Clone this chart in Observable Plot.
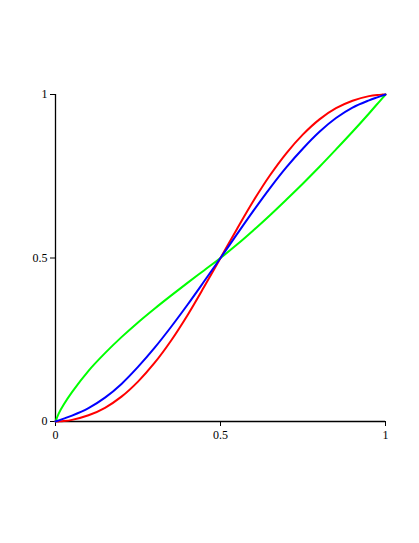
<!DOCTYPE html>
<html>
<head>
<meta charset="utf-8">
<script src="https://cdn.jsdelivr.net/npm/d3@7"></script>
<script src="https://cdn.jsdelivr.net/npm/@observablehq/plot@0.6"></script>
<style>
  html, body { margin: 0; padding: 0; background: #fff; }
  svg text { font-family: "Liberation Serif", "Times New Roman", serif !important; }
</style>
</head>
<body>
<div id="chart"></div>
<script>
const xs    = [0, 0.01, 0.025, 0.05, 0.1, 0.15, 0.2, 0.25, 0.3, 0.35, 0.4, 0.45, 0.5, 0.55, 0.6, 0.65, 0.7, 0.75, 0.8, 0.85, 0.9, 0.95, 0.975, 0.99, 1];
const red   = [0, 0.0003, 0.0013, 0.005, 0.019, 0.042, 0.076, 0.122, 0.179, 0.247, 0.325, 0.411, 0.5, 0.589, 0.675, 0.753, 0.821, 0.878, 0.924, 0.958, 0.981, 0.995, 0.9987, 0.9997, 1];
const blue  = [0, 0.0035, 0.0088, 0.018, 0.041, 0.073, 0.115, 0.167, 0.225, 0.289, 0.357, 0.428, 0.5, 0.573, 0.645, 0.714, 0.778, 0.835, 0.886, 0.928, 0.960, 0.982, 0.9912, 0.9965, 1];
const green = [0, 0.025, 0.052, 0.090, 0.155, 0.209, 0.258, 0.303, 0.345, 0.385, 0.424, 0.462, 0.5, 0.541, 0.585, 0.631, 0.679, 0.728, 0.779, 0.832, 0.886, 0.942, 0.971, 0.988, 1];
const tickValues = [0, 0.5, 1];
const tickLabels = ["0", "0.5", "1"];

const series = [
  {name: "green", color: "#00ff00", ys: green},
  {name: "red", color: "#ff0000", ys: red},
  {name: "blue", color: "#0000ff", ys: blue}
];

const fmt = d => tickLabels[tickValues.indexOf(d)];
const serif = "'Liberation Serif', 'Times New Roman', serif";

const chart = Plot.plot({
  width: 419,
  height: 543,
  marginLeft: 55,
  marginRight: 34,
  marginTop: 94,
  marginBottom: 122,
  style: {background: "#fff", color: "#000", fontFamily: serif, fontSize: "12px"},
  x: {domain: [0, 1], axis: null},
  y: {domain: [0, 1], axis: null},
  marks: [
    Plot.ruleX([0], {y1: 0, y2: 1, stroke: "#000", strokeWidth: 1.3}),
    Plot.ruleY([0], {x1: 0, x2: 1, stroke: "#000", strokeWidth: 1.3}),
    Plot.axisX({ticks: tickValues, tickFormat: fmt, tickSize: 5, tickPadding: 4, fontSize: 12, label: null, anchor: "bottom"}),
    Plot.axisY({ticks: tickValues, tickFormat: fmt, tickSize: 5, tickPadding: 3, fontSize: 12, label: null, anchor: "left"}),
    ...series.map(s => Plot.line(xs.map((x, i) => ({x, y: s.ys[i]})), {
      x: "x", y: "y", stroke: s.color, strokeWidth: 2, curve: "catmull-rom"
    }))
  ]
});
document.getElementById("chart").appendChild(chart);
</script>
</body>
</html>
